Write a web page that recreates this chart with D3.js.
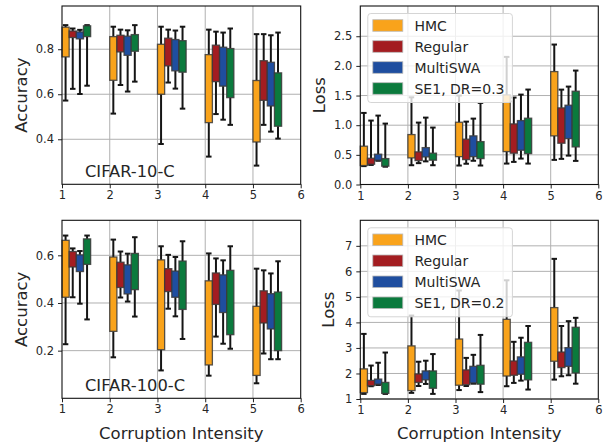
<html>

<head>
    <script src="https://cdnjs.cloudflare.com/ajax/libs/d3/7.8.5/d3.min.js"></script>
    <style>
        body { margin: 0; background: #fff; }
        text { font-family: 'DejaVu Sans', sans-serif; }
    </style>
</head>

<body>
    <script>
        // each entry: [whisker low, q1, q3, whisker high] for intensity 1..5
        const intensities = [1, 2, 3, 4, 5];
        const methods = ['HMC', 'Regular', 'MultiSWA', 'SE1'];
        const colors = ['#f9a31b', '#a31d21', '#1f4e9f', '#0b7a3d'];

        const c10AccHMC = [[0.572, 0.766, 0.898, 0.907], [0.514, 0.662, 0.856, 0.900], [0.379, 0.600, 0.822, 0.900], [0.323, 0.474, 0.776, 0.887], [0.283, 0.388, 0.661, 0.867]];
        const c10AccReg = [[0.624, 0.852, 0.881, 0.892], [0.641, 0.788, 0.862, 0.887], [0.652, 0.726, 0.849, 0.887], [0.512, 0.656, 0.818, 0.878], [0.464, 0.573, 0.749, 0.867]];
        const c10AccSWA = [[0.601, 0.846, 0.877, 0.886], [0.612, 0.773, 0.858, 0.884], [0.625, 0.704, 0.843, 0.883], [0.487, 0.636, 0.809, 0.874], [0.434, 0.548, 0.742, 0.862]];
        const c10AccSE1 = [[0.638, 0.856, 0.904, 0.907], [0.656, 0.791, 0.865, 0.907], [0.536, 0.698, 0.838, 0.900], [0.464, 0.585, 0.803, 0.892], [0.403, 0.458, 0.695, 0.874]];

        const c10LossHMC = [[0.31, 0.32, 0.646, 1.207], [0.325, 0.449, 0.842, 1.47], [0.32, 0.47, 1.05, 1.50], [0.353, 0.555, 1.511, 2.152], [0.415, 0.82, 1.904, 2.36]];
        const c10LossReg = [[0.33, 0.342, 0.443, 1.078], [0.36, 0.403, 0.55, 1.044], [0.35, 0.42, 0.764, 1.06], [0.381, 0.528, 1.022, 1.466], [0.432, 0.696, 1.292, 1.60]];
        const c10LossSWA = [[0.40, 0.41, 0.511, 1.162], [0.39, 0.465, 0.622, 1.128], [0.40, 0.47, 0.82, 1.111], [0.437, 0.578, 1.078, 1.516], [0.487, 0.774, 1.337, 1.651]];
        const c10LossSE1 = [[0.30, 0.309, 0.437, 1.027], [0.325, 0.41, 0.528, 0.96], [0.32, 0.437, 0.723, 1.376], [0.353, 0.521, 1.118, 1.601], [0.398, 0.634, 1.573, 1.921]];

        const c100AccHMC = [[0.227, 0.424, 0.663, 0.683], [0.172, 0.281, 0.593, 0.666], [0.117, 0.204, 0.581, 0.638], [0.095, 0.140, 0.493, 0.608], [0.063, 0.096, 0.386, 0.544]];
        const c100AccReg = [[0.424, 0.551, 0.616, 0.629], [0.423, 0.465, 0.571, 0.616], [0.376, 0.448, 0.544, 0.602], [0.259, 0.394, 0.526, 0.587], [0.188, 0.316, 0.451, 0.537]];
        const c100AccSWA = [[0.397, 0.532, 0.602, 0.618], [0.406, 0.438, 0.560, 0.607], [0.344, 0.424, 0.534, 0.593], [0.229, 0.360, 0.518, 0.579], [0.164, 0.291, 0.439, 0.524]];
        const c100AccSE1 = [[0.331, 0.562, 0.669, 0.683], [0.343, 0.456, 0.608, 0.676], [0.249, 0.373, 0.576, 0.659], [0.208, 0.267, 0.537, 0.638], [0.164, 0.200, 0.446, 0.575]];

        const c100LossHMC = [[1.20, 1.25, 2.18, 3.55], [1.24, 1.33, 3.08, 4.27], [1.35, 1.54, 3.35, 5.25], [1.50, 1.90, 4.12, 5.65], [1.76, 2.48, 4.58, 6.49]];
        const c100LossReg = [[1.50, 1.52, 1.73, 2.31], [1.51, 1.65, 1.98, 2.46], [1.51, 1.56, 2.14, 2.61], [1.63, 1.93, 2.49, 3.24], [1.89, 2.23, 2.84, 3.86]];
        const c100LossSWA = [[1.55, 1.58, 1.78, 2.42], [1.59, 1.75, 2.10, 2.50], [1.60, 1.63, 2.28, 2.73], [1.72, 1.97, 2.65, 3.40], [1.93, 2.28, 3.01, 4.05]];
        const c100LossSE1 = [[1.20, 1.22, 1.65, 2.82], [1.20, 1.42, 2.10, 2.76], [1.27, 1.58, 2.32, 3.51], [1.37, 1.75, 3.22, 3.86], [1.60, 2.02, 3.81, 4.18]];

        const xTicks = [1, 2, 3, 4, 5, 6];
        const c10AccTicks = [0.4, 0.6, 0.8];
        const c10LossTicks = [0, 0.5, 1.0, 1.5, 2.0, 2.5];
        const c100AccTicks = [0.2, 0.4, 0.6];
        const c100LossTicks = [1, 2, 3, 4, 5, 6, 7];

        const width = 603;
        const height = 442;

        const panels = [
            { left: 62, right: 300.7, top: 6, bottom: 184.3, ydom: [0.2, 0.992], ticks: c10AccTicks, fmt: '.1f',
              series: [c10AccHMC, c10AccReg, c10AccSWA, c10AccSE1], ylabel: 'Accuracy', labelX: 21, note: 'CIFAR-10-C' },
            { left: 360.3, right: 598.3, top: 6, bottom: 184.5, ydom: [0, 3.01], ticks: c10LossTicks, fmt: '.1f',
              series: [c10LossHMC, c10LossReg, c10LossSWA, c10LossSE1], ylabel: 'Loss', labelX: 319, legend: 'SE1, DR=0.3' },
            { left: 62, right: 300.7, top: 220.3, bottom: 398.3, ydom: [0, 0.747], ticks: c100AccTicks, fmt: '.1f',
              series: [c100AccHMC, c100AccReg, c100AccSWA, c100AccSE1], ylabel: 'Accuracy', labelX: 21, note: 'CIFAR-100-C', xlabel: true },
            { left: 360.3, right: 598.3, top: 220.3, bottom: 399, ydom: [1, 8.0], ticks: c100LossTicks, fmt: 'd',
              series: [c100LossHMC, c100LossReg, c100LossSWA, c100LossSE1], ylabel: 'Loss', labelX: 328, legend: 'SE1, DR=0.2', xlabel: true }
        ];

        const svg = d3.select('body').append('svg')
            .attr('width', width)
            .attr('height', height);

        const boxW = 0.15;
        const capW = 0.115;

        panels.forEach(p => {
            const x = d3.scaleLinear().domain([1, 6]).range([p.left, p.right]);
            const y = d3.scaleLinear().domain(p.ydom).range([p.bottom, p.top]);
            const g = svg.append('g');

            // grid
            g.append('g').selectAll('line')
                .data(xTicks.slice(1, -1))
                .enter().append('line')
                .attr('x1', d => x(d)).attr('x2', d => x(d))
                .attr('y1', p.top).attr('y2', p.bottom)
                .style('stroke', '#b0b0b0').style('stroke-width', 1);
            g.append('g').selectAll('line')
                .data(p.ticks)
                .enter().append('line')
                .attr('x1', p.left).attr('x2', p.right)
                .attr('y1', d => y(d)).attr('y2', d => y(d))
                .style('stroke', '#b0b0b0').style('stroke-width', 1);

            // boxes
            p.series.forEach((s, m) => {
                const off = 0.075 + 0.15 * m;
                const grp = g.append('g');
                const item = grp.selectAll('g')
                    .data(s.map((v, i) => ({ pos: intensities[i] + off, v })))
                    .enter().append('g');

                item.append('line')
                    .attr('x1', d => x(d.pos)).attr('x2', d => x(d.pos))
                    .attr('y1', d => y(d.v[0])).attr('y2', d => y(d.v[1]))
                    .style('stroke', '#151515').style('stroke-width', 2);
                item.append('line')
                    .attr('x1', d => x(d.pos)).attr('x2', d => x(d.pos))
                    .attr('y1', d => y(d.v[2])).attr('y2', d => y(d.v[3]))
                    .style('stroke', '#151515').style('stroke-width', 2);
                [0, 3].forEach(k => {
                    item.append('line')
                        .attr('x1', d => x(d.pos - capW / 2)).attr('x2', d => x(d.pos + capW / 2))
                        .attr('y1', d => y(d.v[k])).attr('y2', d => y(d.v[k]))
                        .style('stroke', '#151515').style('stroke-width', 2);
                });
                item.append('rect')
                    .attr('x', d => x(d.pos - boxW / 2))
                    .attr('width', d => x(d.pos + boxW / 2) - x(d.pos - boxW / 2))
                    .attr('y', d => y(d.v[2]))
                    .attr('height', d => y(d.v[1]) - y(d.v[2]))
                    .style('fill', colors[m])
                    .style('stroke', '#3a3a3a')
                    .style('stroke-opacity', 0.85)
                    .style('stroke-width', 1.3);
            });

            // axes
            const xAxis = g.append('g')
                .attr('transform', `translate(0, ${p.bottom})`)
                .call(d3.axisBottom(x).tickValues(xTicks).tickFormat(d3.format('d')).tickSize(4).tickPadding(3));
            const yAxis = g.append('g')
                .attr('transform', `translate(${p.left}, 0)`)
                .call(d3.axisLeft(y).tickValues(p.ticks).tickFormat(d3.format(p.fmt)).tickSize(4).tickPadding(4));
            [xAxis, yAxis].forEach(a => {
                a.select('.domain').remove();
                a.selectAll('line').style('stroke', '#222');
                a.selectAll('text').style('font-size', '11.5px').style('fill', '#262626')
                    .style('font-family', "'DejaVu Sans', sans-serif");
            });

            g.append('rect')
                .attr('x', p.left).attr('y', p.top)
                .attr('width', p.right - p.left).attr('height', p.bottom - p.top)
                .style('fill', 'none').style('stroke', '#111').style('stroke-width', 1.1);

            g.append('text')
                .text(p.ylabel)
                .attr('transform', `translate(${p.labelX}, ${(p.top + p.bottom) / 2}) rotate(-90)`)
                .attr('text-anchor', 'middle')
                .attr('dominant-baseline', 'central')
                .style('font-size', '16.5px').style('fill', '#262626');

            if (p.xlabel) {
                g.append('text')
                    .text('Corruption Intensity')
                    .attr('x', (p.left + p.right) / 2)
                    .attr('y', 433)
                    .attr('text-anchor', 'middle')
                    .attr('dominant-baseline', 'central')
                    .style('font-size', '16.5px').style('fill', '#262626');
            }

            if (p.note) {
                g.append('text')
                    .text(p.note)
                    .attr('x', 85)
                    .attr('y', p.bottom - 13)
                    .attr('dominant-baseline', 'central')
                    .style('font-size', '16.3px').style('fill', '#262626');
            }

            if (p.legend) {
                const names = methods.slice(0, 3).concat([p.legend]);
                const lx = p.left + 7.5;
                const ly = p.top + 7.5;
                const leg = g.append('g');
                leg.append('rect')
                    .attr('x', lx).attr('y', ly)
                    .attr('width', 144.6).attr('height', 89)
                    .attr('rx', 3)
                    .style('fill', '#fff').style('fill-opacity', 0.8)
                    .style('stroke', '#d5d5d5').style('stroke-width', 1);
                const row = leg.selectAll('g.row')
                    .data(names)
                    .enter().append('g')
                    .attr('class', 'row')
                    .attr('transform', (d, i) => `translate(${lx}, ${ly + 12 + 21 * i})`);
                row.append('rect')
                    .attr('x', 5).attr('y', -5.8)
                    .attr('width', 30).attr('height', 11.6)
                    .style('fill', (d, i) => colors[i])
                    .style('stroke', '#bbb').style('stroke-width', 0.8);
                row.append('text')
                    .text(d => d)
                    .attr('x', 46.7)
                    .attr('dominant-baseline', 'central')
                    .style('font-size', '14px').style('fill', '#262626');
            }
        });
    </script>
</body>

</html>
